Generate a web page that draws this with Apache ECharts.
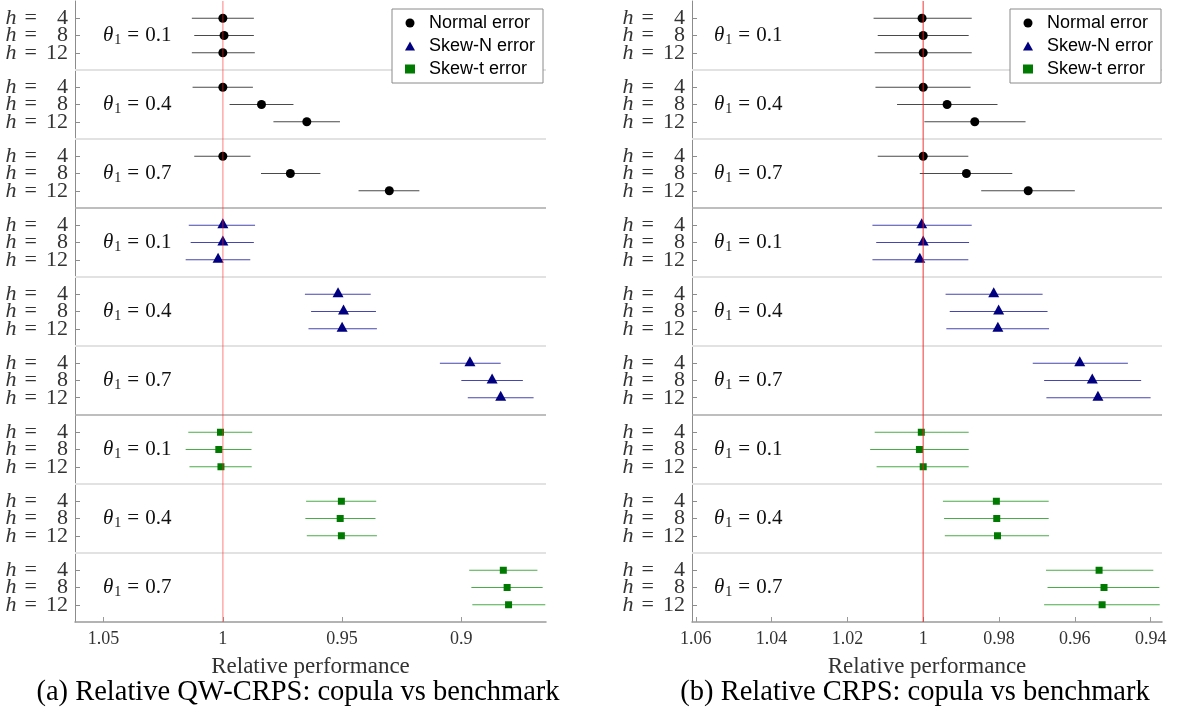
<!DOCTYPE html>
<html><head><meta charset="utf-8">
<script src="https://cdn.jsdelivr.net/npm/echarts@6/dist/echarts.min.js"></script>
<style>html,body{margin:0;padding:0;background:#fff}#c{width:1179px;height:713px}</style>
</head><body><div id="c"></div>
<script>
// ---------- categories / labels ----------
const errorTypes = ['Normal error', 'Skew-N error', 'Skew-t error'];
const thetaLabels = ['0.1', '0.4', '0.7'];
const horizons = ['4', '8', '12'];
const captions = ['(a) Relative QW-CRPS: copula vs benchmark', '(b) Relative CRPS: copula vs benchmark'];
const axisName = 'Relative performance';
const ticksA = [0.9, 0.95, 1, 1.05];
const ticksB = [0.94, 0.96, 0.98, 1, 1.02, 1.04, 1.06];

// ---------- panel (a): QW-CRPS  (rows: theta 0.1 h4,h8,h12 | 0.4 ... | 0.7 ...) ----------
const qwNormalPt = [1.000, 0.9995, 1.000, 1.000, 0.9838, 0.9648, 1.000, 0.9717, 0.9302];
const qwNormalHi = [1.013, 1.012, 1.013, 1.0127, 0.9972, 0.9788, 1.012, 0.984, 0.9431];
const qwNormalLo = [0.987, 0.987, 0.9866, 0.9874, 0.9704, 0.9509, 0.9884, 0.9591, 0.9176];
const qwSkewNPt = [1.000, 1.000, 1.002, 0.9517, 0.9494, 0.950, 0.8964, 0.8871, 0.8835];
const qwSkewNHi = [1.0143, 1.0135, 1.0156, 0.9656, 0.963, 0.9641, 0.909, 0.900, 0.8973];
const qwSkewNLo = [0.9865, 0.987, 0.9885, 0.938, 0.9358, 0.9354, 0.8835, 0.8742, 0.8697];
const qwSkewTPt = [1.001, 1.0017, 1.0008, 0.9503, 0.9508, 0.9503, 0.8824, 0.8808, 0.8802];
const qwSkewTHi = [1.0145, 1.0156, 1.014, 0.9651, 0.9654, 0.9648, 0.8967, 0.8958, 0.8954];
const qwSkewTLo = [0.9877, 0.988, 0.9879, 0.9357, 0.936, 0.9354, 0.8681, 0.8659, 0.8648];

// ---------- panel (b): CRPS ----------
const crNormalPt = [1.0003, 1.000, 1.000, 1.000, 0.9937, 0.9864, 1.000, 0.9886, 0.9723];
const crNormalHi = [1.0131, 1.012, 1.0128, 1.0126, 1.0069, 0.9997, 1.012, 1.0009, 0.9847];
const crNormalLo = [0.9872, 0.988, 0.9872, 0.9875, 0.9804, 0.973, 0.9881, 0.9765, 0.960];
const crSkewNPt = [1.0004, 1.000, 1.0009, 0.9814, 0.9801, 0.9803, 0.9587, 0.9554, 0.9539];
const crSkewNHi = [1.0134, 1.0124, 1.0134, 0.9941, 0.993, 0.9939, 0.9711, 0.9681, 0.9675];
const crSkewNLo = [0.9872, 0.9879, 0.9881, 0.9685, 0.9672, 0.9668, 0.946, 0.9425, 0.940];
const crSkewTPt = [1.0005, 1.001, 1.000, 0.9807, 0.9806, 0.9804, 0.9536, 0.9523, 0.9528];
const crSkewTHi = [1.0128, 1.014, 1.0123, 0.9948, 0.9945, 0.9943, 0.9676, 0.9672, 0.9681];
const crSkewTLo = [0.988, 0.988, 0.988, 0.9669, 0.9669, 0.9668, 0.9393, 0.9377, 0.9376];

// ---------- build ----------
const panels = [
  { pts: [qwNormalPt, qwSkewNPt, qwSkewTPt], hi: [qwNormalHi, qwSkewNHi, qwSkewTHi], lo: [qwNormalLo, qwSkewNLo, qwSkewTLo],
    min: 0.8645, max: 1.062, ticks: ticksA, grid: { left: 75, top: 1, width: 471, height: 621 }, thetaDx: 28, legendLeft: 392, capX: 298,
    refColor: 'rgba(255,40,40,0.4)' },
  { pts: [crNormalPt, crSkewNPt, crSkewTPt], hi: [crNormalHi, crSkewNHi, crSkewTHi], lo: [crNormalLo, crSkewNLo, crSkewTLo],
    min: 0.937, max: 1.061, ticks: ticksB, grid: { left: 692, top: 1, width: 470, height: 621 }, thetaDx: 22, legendLeft: 1010, capX: 915,
    refColor: 'rgba(240,30,30,0.6)' }
];
const rowY = (e, t, h) => 4 * (3 * e + t) + h + 1;
const rowPositions = [];
for (let e = 0; e < 3; e++) for (let t = 0; t < 3; t++) for (let h = 0; h < 3; h++) rowPositions.push(rowY(e, t, h));
const sepPositions = [4, 8, 12, 16, 20, 24, 28, 32];
const darkSeps = [12, 24];

const markerColors = ['#000000', '#000080', '#007a00'];
const barColors = ['#4a4a4a', '#4646b0', '#48ad48'];
const symbols = ['circle', 'triangle', 'rect'];
const symbolSizes = [9, [11, 10], 7];
const symbolOffsets = [[0, 0], [0, -2], [0, 0]];
const serif = 'Liberation Serif';

const grids = [], xAxes = [], yAxes = [], series = [], legends = [], graphics = [];
panels.forEach((P, p) => {
  grids.push(P.grid);
  xAxes.push({
    gridIndex: p, type: 'value', min: P.min, max: P.max, inverse: true,
    axisLine: { onZero: false, lineStyle: { color: '#9a9a9a', width: 1.5 } },
    axisTick: { inside: true, length: 5, customValues: P.ticks, lineStyle: { color: '#9a9a9a' } },
    axisLabel: { customValues: P.ticks, fontFamily: serif, fontSize: 18, color: '#333', margin: 8,
      showMinLabel: true, showMaxLabel: true },
    splitLine: { show: false },
    name: axisName, nameLocation: 'middle', nameGap: 33,
    nameTextStyle: { fontFamily: serif, fontSize: 23, color: '#333' }
  });
  yAxes.push({
    gridIndex: p, type: 'value', min: 0, max: 36, inverse: true,
    axisLine: { onZero: false, lineStyle: { color: '#8c8c8c', width: 1 } },
    axisTick: { inside: true, length: 5, customValues: rowPositions, lineStyle: { color: '#8c8c8c' } },
    axisLabel: { show: false },
    splitLine: { show: false }
  });
  // row labels (h = ...) drawn at every row position, left of the axis
  series.push({
    type: 'custom', name: 'hlab' + p, xAxisIndex: p, yAxisIndex: p, silent: true, z: 3, clip: false,
    data: rowPositions.map(v => [v, (v - 1) % 4]), encode: { y: 0 },
    renderItem: (params, api) => {
      const cs = params.coordSys;
      const y = api.coord([P.min, api.value(0)])[1];
      const h = horizons[api.value(1)];
      return { type: 'text', x: cs.x - 7, y: y,
        style: { text: '{i|h}{e|=}{n|' + (h.length < 2 ? '\u2007' + h : h) + '}',
          align: 'right', verticalAlign: 'middle',
          rich: {
            i: { fontFamily: serif, fontStyle: 'italic', fontSize: 22, fill: '#333' },
            e: { fontFamily: serif, fontSize: 22, fill: '#333', padding: [0, 9, 0, 8] },
            n: { fontFamily: serif, fontSize: 22, fill: '#333' }
          } } };
    }
  });
  // separators
  series.push({
    type: 'custom', name: 'sep' + p, xAxisIndex: p, yAxisIndex: p, silent: true, z: 1,
    data: sepPositions.map(v => [v]), encode: { y: 0 },
    renderItem: (params, api) => {
      const cs = params.coordSys;
      const v = api.value(0);
      const y = api.coord([P.min, v])[1];
      const dark = darkSeps.indexOf(v) >= 0;
      return { type: 'line', shape: { x1: cs.x, y1: y, x2: cs.x + cs.width, y2: y },
        style: { stroke: dark ? '#a8a8a8' : '#e2e2e2', lineWidth: dark ? 1.5 : 2 } };
    }
  });
  // theta labels
  const thetaData = [];
  for (let e = 0; e < 3; e++) for (let t = 0; t < 3; t++) thetaData.push([rowY(e, t, 1), t]);
  series.push({
    type: 'custom', name: 'theta' + p, xAxisIndex: p, yAxisIndex: p, silent: true, z: 3,
    data: thetaData, encode: { y: 0 },
    renderItem: (params, api) => {
      const cs = params.coordSys;
      const y = api.coord([P.min, api.value(0)])[1];
      return { type: 'text', x: cs.x + P.thetaDx, y: y,
        style: { text: '{t|\u03b8}{s|1}{e|=}{n|' + thetaLabels[api.value(1)] + '}',
          verticalAlign: 'middle', align: 'left',
          rich: {
            t: { fontFamily: serif, fontStyle: 'italic', fontSize: 21, fill: '#111' },
            s: { fontFamily: serif, fontSize: 14, fill: '#111', padding: [9, 0, 0, 1] },
            e: { fontFamily: serif, fontSize: 21, fill: '#111', padding: [0, 6, 0, 6] },
            n: { fontFamily: serif, fontSize: 21, fill: '#111' }
          } } };
    }
  });
  for (let e = 0; e < 3; e++) {
    const lo = P.lo[e], hi = P.hi[e], pt = P.pts[e];
    series.push({
      type: 'custom', name: 'bar' + p + e, xAxisIndex: p, yAxisIndex: p, silent: true, z: 2,
      data: lo.map((l, i) => [l, hi[i], rowY(e, Math.floor(i / 3), i % 3)]),
      encode: { x: [0, 1], y: 2 },
      renderItem: (params, api) => {
        const a = api.coord([api.value(0), api.value(2)]);
        const b = api.coord([api.value(1), api.value(2)]);
        return { type: 'line', shape: { x1: a[0], y1: a[1], x2: b[0], y2: b[1] },
          style: { stroke: barColors[e], lineWidth: 1.2 } };
      }
    });
    series.push({
      type: 'scatter', name: errorTypes[e], xAxisIndex: p, yAxisIndex: p, z: 3,
      symbol: symbols[e], symbolSize: symbolSizes[e], symbolOffset: symbolOffsets[e],
      itemStyle: { color: markerColors[e], opacity: 1 },
      data: pt.map((v, i) => [v, rowY(e, Math.floor(i / 3), i % 3)])
    });
  }
  // reference line at 1
  series.push({
    type: 'custom', name: 'ref' + p, xAxisIndex: p, yAxisIndex: p, silent: true, z: 4,
    data: [[1]], encode: { x: 0 },
    renderItem: (params, api) => {
      const cs = params.coordSys;
      const x = api.coord([api.value(0), 0])[0];
      return { type: 'line', shape: { x1: x, y1: cs.y, x2: x, y2: cs.y + cs.height },
        style: { stroke: P.refColor, lineWidth: 1.5 } };
    }
  });
  legends.push({
    orient: 'vertical', left: P.legendLeft, top: 9, padding: [5, 8, 5, 13], itemGap: 5,
    itemWidth: 10, itemHeight: 9, backgroundColor: '#fff', borderColor: '#8a8a8a', borderWidth: 1,
    selectedMode: false,
    textStyle: { fontFamily: 'Liberation Sans', fontSize: 18, color: '#000', padding: [0, 0, 0, 9], lineHeight: 18 },
    data: errorTypes.map((n, i) => ({ name: n, icon: symbols[i] }))
  });
  graphics.push({ type: 'text', x: P.capX, y: 693,
    style: { text: captions[p], align: 'center', verticalAlign: 'middle', fontFamily: serif, fontSize: 28.5, fill: '#000' } });
});

const chart = echarts.init(document.getElementById('c'), null, { renderer: 'canvas' });
chart.setOption({
  animation: false,
  backgroundColor: '#fff',
  grid: grids, xAxis: xAxes, yAxis: yAxes, series: series, legend: legends, graphic: graphics
});
</script>
</body></html>
